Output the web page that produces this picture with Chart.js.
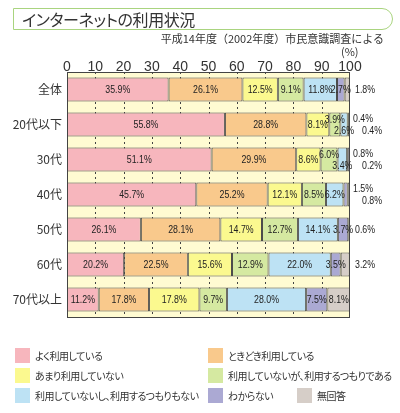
<!DOCTYPE html>
<html><head><meta charset="utf-8">
<script src="https://cdn.jsdelivr.net/npm/chart.js@4/dist/chart.umd.min.js"></script>
<style>
html,body{margin:0;padding:0;background:#fff;}
#wrap{position:relative;width:400px;height:413px;overflow:hidden;font-family:'Noto Sans CJK JP','Noto Sans',sans-serif;color:#333;}
#c{position:absolute;left:0;top:0;}
#title{position:absolute;left:13px;top:8px;width:378px;height:20px;border:1.5px solid #a9d47f;border-radius:0 12px 12px 0;box-sizing:content-box;}
#title span{position:absolute;left:8px;top:0px;font-size:16px;line-height:20px;font-feature-settings:"palt";color:#333;white-space:nowrap;letter-spacing:-0.4px;}
#sub{position:absolute;right:16px;top:31px;font-size:11px;line-height:14px;white-space:nowrap;}
#pct{position:absolute;left:341px;top:44px;font-size:11px;line-height:14px;}
.lg{position:absolute;font-size:10px;line-height:15px;font-feature-settings:"palt";white-space:nowrap;letter-spacing:-0.5px;}
.lg i{position:absolute;left:0;top:0;width:15px;height:15px;}
.lg span{position:absolute;left:20px;top:0;}
</style></head>
<body><div id="wrap">
<canvas id="c" width="400" height="413"></canvas>
<div id="title"><span>インターネットの利用状況</span></div>
<div id="sub">平成14年度（2002年度）市民意識調査による</div>
<div id="pct">(%)</div>
<div id="legend"></div>
</div>
<script>
const categories = ['全体','20代以下','30代','40代','50代','60代','70代以上'];
const seriesNames = ['よく利用している','ときどき利用している','あまり利用していない','利用していないが、利用するつもりである','利用していないし、利用するつもりもない','わからない','無回答'];
const yokuRiyou   = [35.9, 55.8, 51.1, 45.7, 26.1, 20.2, 11.2];
const tokidoki    = [26.1, 28.8, 29.9, 25.2, 28.1, 22.5, 17.8];
const amari       = [12.5,  8.1,  8.6, 12.1, 14.7, 15.6, 17.8];
const tsumoriAru  = [ 9.1,  3.9,  6.0,  8.5, 12.7, 12.9,  9.7];
const tsumoriNai  = [11.8,  2.6,  3.4,  6.2, 14.1, 22.0, 28.0];
const wakaranai   = [ 2.7,  0.4,  0.8,  1.5,  3.7,  3.5,  7.5];
const mukaitou    = [ 1.8,  0.4,  0.2,  0.8,  0.6,  3.2,  8.1];
const xTickValues = [0,10,20,30,40,50,60,70,80,90,100];
const colors = ['#f7b6bd','#f9c98c','#fbf98f','#d5e9a1','#bde2f4','#aba9d3','#d6cec8'];

const seriesValues = [yokuRiyou, tokidoki, amari, tsumoriAru, tsumoriNai, wakaranai, mukaitou];

// legend (HTML)
const legendSpots = [[15,348],[208,348],[15,368],[208,368],[15,388],[208,388],[297,388]];
const lg = document.getElementById('legend');
seriesNames.forEach((n,i)=>{
  const d=document.createElement('div'); d.className='lg';
  d.style.left=legendSpots[i][0]+'px'; d.style.top=legendSpots[i][1]+'px';
  d.innerHTML='<i style="background:'+colors[i]+'"></i><span>'+n+'</span>';
  lg.appendChild(d);
});

const bgPlugin = {
  id:'bg',
  beforeDatasetsDraw(chart){
    const {ctx, chartArea:a, scales:{x}} = chart;
    ctx.save();
    ctx.fillStyle='#fffbd2';
    ctx.fillRect(a.left,a.top,a.right-a.left,a.bottom-a.top);
    ctx.strokeStyle='#444'; ctx.lineWidth=1; ctx.setLineDash([2,3]);
    xTickValues.forEach(v=>{
      if(v===0||v===100) return;
      const px=Math.round(x.getPixelForValue(v))+0.5;
      ctx.beginPath(); ctx.moveTo(px,a.top); ctx.lineTo(px,a.bottom); ctx.stroke();
    });
    ctx.restore();
  },
  afterDatasetsDraw(chart){
    const {ctx, chartArea:a} = chart;
    ctx.save();
    ctx.strokeStyle='#444'; ctx.lineWidth=1;
    ctx.strokeRect(a.left+0.5,a.top+0.5,a.right-a.left-1,a.bottom-a.top);
    ctx.fillStyle='#222';
    ctx.font="11px 'Liberation Sans', Arial, sans-serif";
    ctx.textBaseline='middle';
    const draw=(t,x,y,align)=>{
      ctx.save(); ctx.translate(x,y); ctx.scale(0.8,1);
      ctx.textAlign=align; ctx.fillText(t,0,0); ctx.restore();
    };
    categories.forEach((c,ri)=>{
      const outside=[];
      seriesValues.forEach((arr,di)=>{
        const v=arr[ri];
        const el=chart.getDatasetMeta(di).data[ri];
        const t=v.toFixed(1)+'%';
        const cx=(el.x+el.base)/2, cy=el.y;
        if((di===6 && v<5) || (di===5 && v<2)){ outside.push(t); return; }
        let dy=0;
        if(di===3 && v<7) dy=-5;
        if(di===4 && v<5 && seriesValues[3][ri]<7) dy=6;
        draw(t,cx,cy+dy,'center');
      });
      const el=chart.getDatasetMeta(0).data[ri];
      if(outside.length===1) draw(outside[0],a.right+5,el.y,'left');
      else if(outside.length===2){
        draw(outside[0],a.right+3,el.y-6,'left');
        draw(outside[1],a.right+12,el.y+6,'left');
      }
    });
    ctx.restore();
  }
};

new Chart(document.getElementById('c'),{
  type:'bar',
  data:{
    labels:categories,
    datasets:seriesValues.map((arr,i)=>({
      label:seriesNames[i], data:arr, backgroundColor:colors[i],
      borderColor:'#4a4a4a', borderWidth:1, borderSkipped:false,
      barPercentage:0.69, categoryPercentage:1
    }))
  },
  options:{
    indexAxis:'y', responsive:false, animation:false,
    layout:{padding:{left:0,right:50,top:0,bottom:96}},
    plugins:{legend:{display:false},tooltip:{enabled:false}},
    scales:{
      x:{position:'top',stacked:true,min:0,max:100,
        afterBuildTicks(s){ s.ticks = xTickValues.map(v=>({value:v})); },
        afterFit(s){ s.height=72; },
        grid:{display:false,drawTicks:false},
        border:{display:false},
        ticks:{padding:-4,color:'#333',maxRotation:0,minRotation:0,autoSkip:false,font:{family:"'Liberation Sans', Arial, sans-serif",size:14}}
      },
      y:{stacked:true,
        afterFit(s){ s.width=67; },
        grid:{display:false,drawTicks:false},
        border:{display:false},
        ticks:{padding:5,color:'#333',font:{family:"'Noto Sans CJK JP', sans-serif",size:12}}
      }
    }
  },
  plugins:[bgPlugin]
});
</script>
</body></html>
